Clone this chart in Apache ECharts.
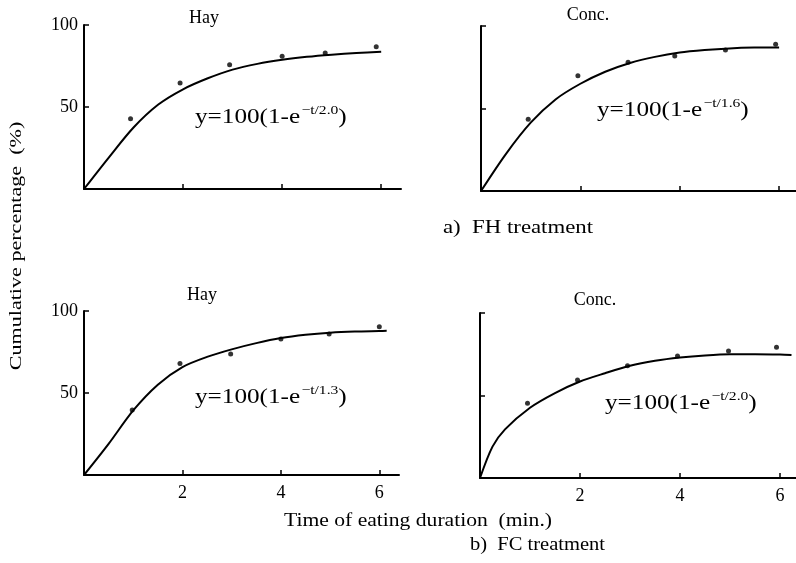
<!DOCTYPE html>
<html><head><meta charset="utf-8">
<script src="https://cdn.jsdelivr.net/npm/echarts@6/dist/echarts.min.js"></script>
<style>html,body{margin:0;padding:0;background:#fff}#c{width:796px;height:563px}</style>
</head><body><div id="c"></div>
<script>
// ---- data ----
const panelTitles = ['Hay', 'Conc.', 'Hay', 'Conc.'];
const formulaTau = ['2.0', '1.6', '1.3', '2.0'];
const xTickValues = [2, 4, 6];
const yTickValues = [50, 100];
const yTickLabels = ['50', '100'];
const captionA = 'a)  FH treatment';
const captionB = 'b)  FC treatment';
const xAxisTitle = 'Time of eating duration  (min.)';
const yAxisTitle = 'Cumulative percentage  (%)';

// observed points [t, %]
const hayFHObs = [[0.94, 42.9], [1.94, 64.6], [2.94, 75.8], [4.0, 81.0], [4.87, 83.0], [5.9, 86.8]];
const concFHObs = [[0.95, 43.5], [1.95, 69.9], [2.96, 78.0], [3.9, 81.8], [4.92, 85.5], [5.93, 88.9]];
const hayFCObs = [[0.98, 39.6], [1.95, 68.0], [2.98, 73.8], [4.0, 83.0], [4.98, 86.0], [6.0, 90.4]];
const concFCObs = [[0.95, 45.3], [1.95, 59.4], [2.95, 68.0], [3.95, 74.0], [4.97, 77.0], [5.93, 79.2]];

// fitted curves [t, %]
const hayFHCurve = [[0, 0], [0.5, 19.2], [1, 37.5], [1.5, 51.5], [2, 60.8], [2.5, 67.5], [3, 72.8], [3.5, 76.3], [4, 78.8], [4.5, 80.6], [5, 81.9], [5.5, 82.9], [6, 83.7]];
const concFHCurve = [[0, 0], [0.5, 22.4], [1, 41.4], [1.5, 55.5], [2, 65], [2.5, 72.3], [3, 77.6], [3.5, 81.3], [4, 83.9], [4.5, 85.4], [5, 86.4], [5.5, 86.9], [6, 87]];
const hayFCCurve = [[0, 0], [0.5, 19], [1, 39.4], [1.5, 55.1], [2, 65.8], [2.5, 72], [3, 76.6], [3.5, 80.4], [4, 83.5], [4.5, 85.5], [5, 86.8], [5.5, 87.5], [6, 87.8], [6.15, 87.9]];
const concFCCurve = [[0, 0], [0.25, 19], [0.5, 29.5], [1, 42.6], [1.5, 51.5], [2, 58.5], [2.5, 63.5], [3, 68], [3.5, 71], [4, 73], [4.5, 74.3], [5, 75], [5.5, 75], [6, 74.8], [6.23, 74.5]];

const obsSets = [hayFHObs, concFHObs, hayFCObs, concFCObs];
const curveSets = [hayFHCurve, concFHCurve, hayFCCurve, concFCCurve];

// ---- layout ----
const FONT = '"Liberation Serif", "DejaVu Serif", serif';
const grids = [
  { left: 84, top: 25, width: 317, height: 164 },
  { left: 481, top: 26, width: 315, height: 165 },
  { left: 84, top: 311, width: 315, height: 164 },
  { left: 480, top: 313, width: 316, height: 165 }
];
const xMax = [6.4, 6.34, 6.4, 6.32];
const showX = [false, false, true, true];
const showY = [true, false, true, false];
const titlePos = [[204, 18], [588, 15], [202, 295], [595, 300]];
const formulaPos = [[195, 117], [597, 110], [195, 397], [605, 403]];

const option = {
  animation: false,
  backgroundColor: '#fff',
  grid: grids.map(g => Object.assign({ containLabel: false }, g)),
  xAxis: grids.map((g, i) => ({
    type: 'value', gridIndex: i, min: 0, max: xMax[i],
    axisLine: { show: true, onZero: false, lineStyle: { color: '#000', width: 2 } },
    axisTick: { show: true, inside: true, length: 5, customValues: xTickValues, lineStyle: { color: '#000', width: 1.5 } },
    axisLabel: { show: showX[i], customValues: xTickValues, color: '#000', fontFamily: FONT, fontSize: 18, margin: 9 },
    splitLine: { show: false }
  })),
  yAxis: grids.map((g, i) => ({
    type: 'value', gridIndex: i, min: 0, max: 100,
    axisLine: { show: true, onZero: false, lineStyle: { color: '#000', width: 2 } },
    axisTick: { show: true, inside: true, length: 5, customValues: yTickValues, lineStyle: { color: '#000', width: 1.5 } },
    axisLabel: { show: showY[i], customValues: yTickValues, formatter: v => yTickLabels[yTickValues.indexOf(v)] || '', color: '#000', fontFamily: FONT, fontSize: 18, margin: 6 },
    splitLine: { show: false }
  })),
  series: [].concat(
    curveSets.map((d, i) => ({
      type: 'line', xAxisIndex: i, yAxisIndex: i, data: d, smooth: 0.3, showSymbol: false,
      lineStyle: { color: '#000', width: 2 }, z: 2
    })),
    obsSets.map((d, i) => ({
      type: 'scatter', xAxisIndex: i, yAxisIndex: i, data: d, symbolSize: 5,
      itemStyle: { color: '#000' }, z: 3
    }))
  ),
  graphic: [].concat(
    panelTitles.map((t, i) => ({
      type: 'text', x: titlePos[i][0], y: titlePos[i][1],
      style: { text: t, fontFamily: FONT, fontSize: 18, fill: '#000', align: 'center', verticalAlign: 'middle' }
    })),
    formulaTau.map((tau, i) => ({
      type: 'text', x: formulaPos[i][0], y: formulaPos[i][1], scaleX: 1.2,
      style: {
        text: '{a|y=100(1-e}{s|−t/' + tau + '}{a|)}',
        fill: '#000', align: 'left', verticalAlign: 'middle',
        rich: {
          a: { fontFamily: FONT, fontSize: 21, fill: '#000' },
          s: { fontFamily: FONT, fontSize: 13, fill: '#000', padding: [0, 0, 13, 1] }
        }
      }
    })),
    [
      { type: 'text', x: 443, y: 228, scaleX: 1.2,
        style: { text: captionA, fontFamily: FONT, fontSize: 19, fill: '#000', align: 'left', verticalAlign: 'middle' } },
      { type: 'text', x: 470, y: 545, scaleX: 1.08,
        style: { text: captionB, fontFamily: FONT, fontSize: 19, fill: '#000', align: 'left', verticalAlign: 'middle' } },
      { type: 'text', x: 418, y: 521, scaleX: 1.2,
        style: { text: xAxisTitle, fontFamily: FONT, fontSize: 18, fill: '#000', align: 'center', verticalAlign: 'middle' } },
      { type: 'text', x: 17, y: 246, rotation: Math.PI / 2, scaleX: 1.3,
        style: { text: yAxisTitle, fontFamily: FONT, fontSize: 17, fill: '#000', align: 'center', verticalAlign: 'middle' } }
    ]
  )
};
const chart = echarts.init(document.getElementById('c'), null, { renderer: 'canvas' });
chart.setOption(option);
</script></body></html>
